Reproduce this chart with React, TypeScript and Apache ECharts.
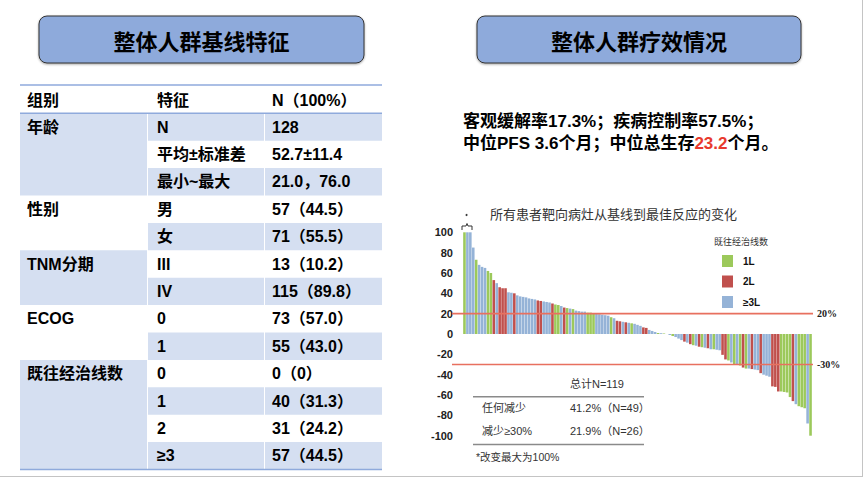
import React, { useEffect, useRef } from 'react';
import * as echarts from 'echarts';

// ---------- data ----------
const headerTitles = ['整体人群基线特征', '整体人群疗效情况'];

const tableHeader = ['组别', '特征', 'N（100%）'];
const groupNames = ['年龄', '性别', 'TNM分期', 'ECOG', '既往经治线数'];
const groupSizes = [3, 2, 2, 2, 4];
const featureLabels = ['N', '平均±标准差', '最小~最大', '男', '女', 'III', 'IV', '0', '1', '0', '1', '2', '≥3'];
const featureValues = ['128', '52.7±11.4', '21.0，76.0', '57（44.5）', '71（55.5）', '13（10.2）', '115（89.8）', '73（57.0）', '55（43.0）', '0（0）', '40（31.3）', '31（24.2）', '57（44.5）'];

const summaryLine1 = '客观缓解率17.3%；疾病控制率57.5%；';
const summaryLine2Start = '中位PFS 3.6个月；中位总生存';
const summaryHighlight = '23.2';
const summaryLine2End = '个月。';

const chartTitle = '所有患者靶向病灶从基线到最佳反应的变化';
const legendTitle = '既往经治线数';
const lineNames = ['1L', '2L', '≥3L'];

// best change from baseline (%) per patient, sorted
const barValues = [
  100, 100, 100, 85, 73, 68, 66, 65, 62, 60,
  53, 50, 46, 45, 45, 41, 40.5, 40, 38, 37,
  36.5, 36, 35, 34.5, 34, 33, 32.5, 32, 31.5, 31,
  30, 29, 28.5, 27.5, 26, 25.5, 25, 24.5, 23, 22.5,
  22, 22, 21, 21, 20.5, 20, 19.5, 19, 18.5, 18,
  16.5, 15.5, 13, 12.5, 12, 11.5, 11, 10.5, 10, 9,
  8, 6.5, 6, 4, 3, 2, 1, 0.8, 0.5, 0,
  -1, -2, -3, -4.5, -6, -7.5, -8.5, -10, -11, -11.5,
  -12.5, -13, -13.5, -14, -15, -15, -15.5, -16, -20.5, -25,
  -26, -28, -29.5, -30.5, -31, -33, -34, -34, -34.5, -35,
  -35.5, -38.5, -40, -41, -42, -51.5, -52, -56.5, -56.5, -57,
  -57.5, -62, -66, -69, -71, -72, -73, -88, -100,
];
// prior lines of therapy per patient: 1 = 1L, 2 = 2L, 3 = ≥3L
const barLines = [
  1, 3, 3, 3, 1, 3, 3, 3, 1, 1,
  2, 3, 2, 2, 2, 3, 3, 2, 3, 3,
  3, 3, 3, 3, 3, 2, 2, 3, 3, 3,
  2, 1, 1, 3, 2, 1, 3, 1, 3, 3,
  3, 3, 1, 1, 1, 3, 3, 3, 3, 3,
  1, 3, 2, 2, 3, 2, 3, 1, 3, 3,
  3, 2, 2, 3, 3, 3, 1, 3, 1, 3,
  3, 1, 3, 3, 3, 2, 3, 2, 1, 3,
  2, 1, 3, 2, 3, 1, 3, 3, 2, 2,
  1, 3, 1, 3, 1, 2, 1, 3, 2, 3,
  3, 2, 3, 3, 3, 2, 2, 2, 1, 1,
  1, 1, 2, 3, 1, 1, 1, 3, 1,
];
const refValues = [20, -30];
const refLabels = ['20%', '-30%'];

const summaryTotal = '总计N=119';
const reductionLabels = ['任何减少', '减少≥30%'];
const reductionValues = ['41.2%（N=49）', '21.9%（N=26）'];
const footnote = '*改变最大为100%';

// ---------- styles ----------
const FONT = '"Liberation Sans", "Noto Sans CJK SC", sans-serif';
const CJK = '"Noto Sans CJK SC", "Liberation Sans", sans-serif';
const lineColors = ['#9cc95b', '#c0504d', '#95b3d7'];
const SHADE = '#d5dff1';
const TABLE_LINE = '#8faadc';

function buildGraphics() {
  const els: any[] = [];
  // header boxes
  const boxes = [
    { x: 39, w: 325 },
    { x: 477, w: 324 },
  ];
  boxes.forEach((b, i) => {
    els.push({
      type: 'rect',
      shape: { x: b.x, y: 16, width: b.w, height: 47, r: 8 },
      style: { fill: '#8eaadb', stroke: '#333', lineWidth: 1, shadowBlur: 2, shadowOffsetY: 1, shadowColor: 'rgba(0,0,0,0.35)' },
    });
    els.push({
      type: 'text',
      x: b.x + b.w / 2,
      y: 40,
      style: { text: headerTitles[i], font: `bold 22px ${CJK}`, fill: '#000', align: 'center', verticalAlign: 'middle' },
    });
  });

  // table
  const TX = [20, 148, 265, 382];
  const TOP = 85;
  const HEAD_H = 28.3;
  const ROW_H = 27.4;
  const bodyTop = TOP + HEAD_H;
  let start = 0;
  groupNames.forEach((g, gi) => {
    if (gi % 2 === 0) {
      els.push({
        type: 'rect',
        shape: { x: TX[0], y: bodyTop + start * ROW_H, width: TX[1] - TX[0] - 1, height: groupSizes[gi] * ROW_H },
        style: { fill: SHADE },
      });
    }
    els.push({
      type: 'text',
      x: 27,
      y: bodyTop + start * ROW_H + ROW_H / 2,
      style: { text: g, font: `bold 16px ${FONT}`, fill: '#000', verticalAlign: 'middle' },
    });
    start += groupSizes[gi];
  });
  featureLabels.forEach((f, r) => {
    const y = bodyTop + r * ROW_H;
    if (r % 2 === 0) {
      els.push({ type: 'rect', shape: { x: TX[1], y, width: TX[2] - TX[1] - 1, height: ROW_H }, style: { fill: SHADE } });
      els.push({ type: 'rect', shape: { x: TX[2], y, width: TX[3] - TX[2], height: ROW_H }, style: { fill: SHADE } });
    }
    els.push({ type: 'text', x: 157, y: y + ROW_H / 2, style: { text: f, font: `bold 16px ${FONT}`, fill: '#000', verticalAlign: 'middle' } });
    els.push({ type: 'text', x: 272, y: y + ROW_H / 2, style: { text: featureValues[r], font: `bold 16px ${FONT}`, fill: '#000', verticalAlign: 'middle' } });
  });
  const hx = [27, 157, 272];
  tableHeader.forEach((h, i) => {
    els.push({ type: 'text', x: hx[i], y: TOP + HEAD_H / 2 + 1, style: { text: h, font: `bold 16px ${FONT}`, fill: '#000', verticalAlign: 'middle' } });
  });
  const bottom = bodyTop + featureLabels.length * ROW_H;
  [TOP, bodyTop, bottom].forEach((y) => {
    els.push({ type: 'line', shape: { x1: TX[0], y1: y, x2: TX[3], y2: y }, style: { stroke: TABLE_LINE, lineWidth: 1.5 } });
  });

  // summary text
  els.push({ type: 'text', x: 463, y: 121, style: { text: summaryLine1, font: `bold 17px ${FONT}`, fill: '#000', verticalAlign: 'middle' } });
  els.push({
    type: 'text',
    x: 463,
    y: 143,
    style: {
      text: `{a|${summaryLine2Start}}{r|${summaryHighlight}}{a|${summaryLine2End}}`,
      verticalAlign: 'middle',
      rich: {
        a: { fontSize: 17, fontWeight: 'bold', fontFamily: FONT, fill: '#000' },
        r: { fontSize: 17, fontWeight: 'bold', fontFamily: FONT, fill: '#e8392e' },
      },
    },
  });

  // chart title and legend title
  els.push({ type: 'text', x: 490, y: 213, style: { text: chartTitle, font: `13px ${CJK}`, fill: '#333', verticalAlign: 'middle' } });
  els.push({ type: 'text', x: 714, y: 241.5, style: { text: legendTitle, font: `9px ${CJK}`, fill: '#333', verticalAlign: 'middle' } });

  // bracket marking bars capped at 100%
  els.push({ type: 'circle', shape: { cx: 466.5, cy: 215, r: 1 }, style: { fill: '#333' } });
  els.push({
    type: 'polyline',
    shape: { points: [[462, 230], [462, 226], [466, 226], [467, 223.5], [468, 226], [472, 226], [472, 230]] },
    style: { stroke: '#333', lineWidth: 1, fill: 'none' },
  });

  // inner summary table
  const small = `11px ${FONT}`;
  els.push({ type: 'text', x: 570, y: 384, style: { text: summaryTotal, font: small, fill: '#333', verticalAlign: 'middle' } });
  els.push({ type: 'line', shape: { x1: 473, y1: 396.7, x2: 644, y2: 396.7 }, style: { stroke: '#8a8a8a', lineWidth: 1.5 } });
  reductionLabels.forEach((l, i) => {
    const y = 408 + i * 23.3;
    els.push({ type: 'text', x: 482, y, style: { text: l, font: small, fill: '#333', verticalAlign: 'middle' } });
    els.push({ type: 'text', x: 570, y, style: { text: reductionValues[i], font: small, fill: '#333', verticalAlign: 'middle' } });
  });
  els.push({ type: 'line', shape: { x1: 473, y1: 444.5, x2: 644, y2: 444.5 }, style: { stroke: '#8a8a8a', lineWidth: 1.5 } });
  els.push({ type: 'text', x: 476, y: 456.5, style: { text: footnote, font: `10.5px ${FONT}`, fill: '#333', verticalAlign: 'middle' } });

  // slide frame lines
  els.push({ type: 'line', shape: { x1: 862.5, y1: 0, x2: 862.5, y2: 477 }, style: { stroke: '#c4c4c4', lineWidth: 1 } });
  els.push({ type: 'line', shape: { x1: 0, y1: 476.5, x2: 863, y2: 476.5 }, style: { stroke: '#c4c4c4', lineWidth: 1 } });
  return els;
}

export default function App() {
  const ref = useRef<HTMLDivElement>(null);
  useEffect(() => {
    const chart = echarts.init(ref.current!, null, { renderer: 'svg' });
    const categories = barValues.map((_, i) => String(i + 1));
    const barSeries = lineNames.map((name, k) => ({
      type: 'bar',
      name,
      stack: 'change',
      data: barValues.map((v, i) => (barLines[i] === k + 1 ? v : '-')),
      itemStyle: { color: lineColors[k] },
      barCategoryGap: '12%',
      z: 2,
    }));
    const option: any = {
      animation: false,
      backgroundColor: '#fff',
      grid: { left: 463, right: 54, top: 232.3, bottom: 43.3, outerBoundsMode: 'none' },
      xAxis: { type: 'category', data: categories, show: false },
      yAxis: {
        type: 'value',
        min: -100,
        max: 100,
        interval: 20,
        axisLine: { show: false },
        axisTick: { show: false },
        splitLine: { show: false },
        axisLabel: { margin: 10, fontSize: 11, fontWeight: 'bold', color: '#222', fontFamily: '"Liberation Sans", sans-serif' },
      },
      legend: {
        data: lineNames,
        orient: 'vertical',
        left: 717,
        top: 250,
        itemWidth: 11,
        itemHeight: 12,
        itemGap: 8.5,
        icon: 'rect',
        selectedMode: false,
        textStyle: { fontSize: 10, fontWeight: 'bold', color: '#111', fontFamily: '"Liberation Sans", sans-serif', padding: [0, 0, 0, 5] },
      },
      series: [
        ...barSeries,
        {
          type: 'custom',
          name: 'ref',
          data: refValues.map((v) => [0, v]),
          encode: { x: 0, y: 1 },
          z: 5,
          renderItem: (params: any, api: any) => {
            const y = api.coord([0, api.value(1)])[1];
            const cs = params.coordSys;
            return {
              type: 'group',
              children: [
                { type: 'line', shape: { x1: cs.x - 11, y1: y, x2: cs.x + cs.width + 1, y2: y }, style: { stroke: '#e8705f', lineWidth: 1.6 } },
                {
                  type: 'text',
                  x: cs.x + cs.width + 5,
                  y,
                  style: { text: refLabels[params.dataIndex], font: 'bold 10px "Liberation Serif", serif', fill: '#222', verticalAlign: 'middle' },
                },
              ],
            };
          },
        },
      ],
      graphic: buildGraphics(),
    };
    chart.setOption(option);
    return () => chart.dispose();
  }, []);
  return <div ref={ref} style={{ position: 'absolute', left: 0, top: 0, width: 866, height: 479 }} />;
}
